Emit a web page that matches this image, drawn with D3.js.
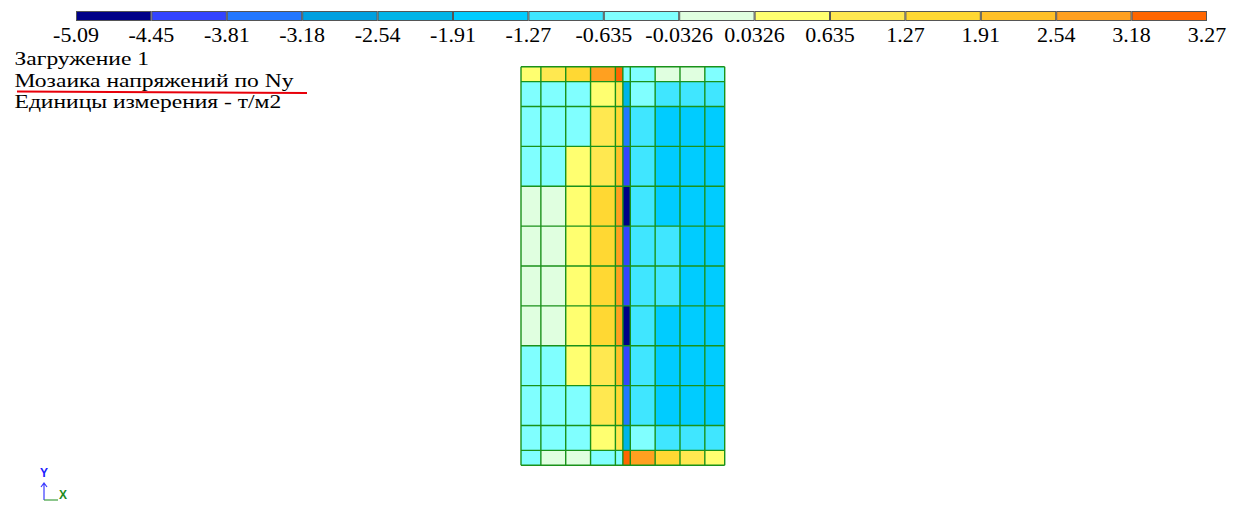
<!DOCTYPE html>
<html>
<head>
<meta charset="utf-8">
<script src="https://cdn.jsdelivr.net/npm/d3@7"></script>
<style>
  html, body { margin: 0; padding: 0; background: #fff; }
  svg { display: block; }
  text { font-family: "Liberation Serif", "Times New Roman", serif; }
  text.axis-letter { font-family: "Liberation Sans", Arial, sans-serif; font-weight: bold; }
</style>
</head>
<body>
<svg id="chart" width="1241" height="508"></svg>
<script>
// Legend scale: band edges (t/m2) and their printed labels
const bandEdges = [-5.09, -4.45, -3.81, -3.18, -2.54, -1.91, -1.27, -0.635, -0.0326, 0.0326, 0.635, 1.27, 1.91, 2.54, 3.18, 3.27];
const edgeLabels = ["-5.09", "-4.45", "-3.81", "-3.18", "-2.54", "-1.91", "-1.27", "-0.635", "-0.0326", "0.0326", "0.635", "1.27", "1.91", "2.54", "3.18", "3.27"];
const bandColors = ["#000088", "#3344ff", "#2277ff", "#00a0e0", "#00b4e8", "#00ccff", "#40e6ff", "#80ffff",
                    "#e0ffe0", "#ffff70", "#ffe850", "#ffd833", "#ffc028", "#ffa020", "#ff6600"];

// Plate mesh: node coordinates along X and along Y (m), Y measured from the top edge
const meshX = [0, 0.4, 0.9, 1.4, 1.9, 2.05, 2.2, 2.7, 3.2, 3.7, 4.1];
const meshY = [0, 0.3, 0.8, 1.6, 2.4, 3.2, 4.0, 4.8, 5.6, 6.4, 7.2, 7.7, 8.0];

// Ny per element (t/m2), rows from top to bottom, columns from left to right
const nyValues = [
  [ 0.30,  0.95,  1.60,  2.90,  3.27, -0.30, -0.30,  0.00,  0.00, -0.30],
  [-0.30, -0.30, -0.30,  0.30,  0.95, -2.20, -0.30, -0.95, -0.95, -0.95],
  [-0.30, -0.30, -0.30,  0.95,  1.60, -3.50, -0.95, -1.60, -1.60, -1.60],
  [-0.30, -0.30,  0.30,  0.95,  2.20, -4.10, -0.95, -1.60, -1.60, -1.60],
  [ 0.00,  0.00,  0.30,  1.60,  2.90, -5.09, -0.95, -1.60, -1.60, -1.60],
  [ 0.00,  0.00,  0.30,  1.60,  2.90, -4.10, -0.95, -0.95, -1.60, -1.60],
  [ 0.00,  0.00,  0.30,  1.60,  2.90, -4.10, -0.95, -0.95, -1.60, -1.60],
  [ 0.00,  0.00,  0.30,  1.60,  2.90, -5.09, -0.95, -1.60, -1.60, -1.60],
  [-0.30, -0.30,  0.30,  0.95,  2.20, -4.10, -0.95, -1.60, -1.60, -1.60],
  [-0.30, -0.30, -0.30,  0.95,  1.60, -3.50, -0.95, -1.60, -1.60, -1.60],
  [-0.30, -0.30, -0.30,  0.30,  0.95, -2.20, -0.30, -0.95, -0.95, -0.95],
  [-0.30,  0.00,  0.00, -0.30, -0.30,  3.27,  2.90,  1.60,  0.95,  0.30]
];

const titleLines = ["Загружение 1", "Мозаика напряжений по Ny", "Единицы измерения - т/м2"];

const svg = d3.select("#chart");

// Colour lookup: each element takes the colour of the band its value falls into
const color = d3.scaleThreshold()
  .domain(bandEdges.slice(1, -1))
  .range(bandColors);

// ---- Legend bar ----
const legendX = d3.scaleLinear().domain([0, bandColors.length]).range([76, 1207]);
const legend = svg.append("g").attr("class", "legend");
legend.selectAll("rect")
  .data(bandColors)
  .join("rect")
  .attr("x", (d, i) => legendX(i) + 0.5)
  .attr("y", 11.5)
  .attr("width", (d, i) => legendX(i + 1) - legendX(i) - 1)
  .attr("height", 9)
  .attr("fill", d => d)
  .attr("stroke", "#555")
  .attr("stroke-width", 1);
legend.selectAll("text")
  .data(edgeLabels)
  .join("text")
  .attr("transform", (d, i) => `translate(${legendX(i)},41.5) scale(1.1,1)`)
  .attr("text-anchor", "middle")
  .attr("font-size", 20)
  .attr("fill", "#000")
  .text(d => d);

// ---- Title block (wide, compact caption lines) ----
const title = svg.append("g").attr("class", "title");
title.selectAll("text")
  .data(titleLines)
  .join("text")
  .attr("transform", (d, i) => `translate(14.5,${65 + i * 21.6}) scale(1.24,1)`)
  .attr("font-size", 19)
  .attr("fill", "#000")
  .text(d => d);
title.append("line")
  .attr("x1", 17).attr("y1", 91.5)
  .attr("x2", 307).attr("y2", 93)
  .attr("stroke", "#e8000a")
  .attr("stroke-width", 2);

// ---- Mosaic ----
const x = d3.scaleLinear().domain([0, d3.max(meshX)]).range([521, 724.7]);
const y = d3.scaleLinear().domain([0, d3.max(meshY)]).range([66.7, 465.3]);

const cells = nyValues.flatMap((row, r) => row.map((v, c) => ({ r, c, v })));
const mosaic = svg.append("g").attr("class", "mosaic");
mosaic.selectAll("rect")
  .data(cells)
  .join("rect")
  .attr("x", d => x(meshX[d.c]))
  .attr("y", d => y(meshY[d.r]))
  .attr("width", d => x(meshX[d.c + 1]) - x(meshX[d.c]))
  .attr("height", d => y(meshY[d.r + 1]) - y(meshY[d.r]))
  .attr("fill", d => color(d.v))
  .attr("shape-rendering", "crispEdges");

// Element edges
const gridColor = "#1a921a";
mosaic.selectAll("line.v")
  .data(meshX)
  .join("line")
  .attr("class", "v")
  .attr("x1", d => x(d)).attr("x2", d => x(d))
  .attr("y1", y(0)).attr("y2", y(d3.max(meshY)))
  .attr("stroke", gridColor)
  .attr("stroke-width", 1.4);
mosaic.selectAll("line.h")
  .data(meshY)
  .join("line")
  .attr("class", "h")
  .attr("y1", d => y(d)).attr("y2", d => y(d))
  .attr("x1", x(0)).attr("x2", x(d3.max(meshX)))
  .attr("stroke", gridColor)
  .attr("stroke-width", 1.4);

// ---- Axis triad ----
const triad = svg.append("g").attr("class", "triad");
triad.append("path")
  .attr("d", "M44,500 L44,483 M41,487 L44,483 L47,487")
  .attr("fill", "none")
  .attr("stroke", "#3a3aff").attr("stroke-width", 1.2);
triad.append("line")
  .attr("x1", 44).attr("y1", 500).attr("x2", 58).attr("y2", 500)
  .attr("stroke", "#40a040").attr("stroke-width", 1.2);
triad.append("text")
  .attr("class", "axis-letter")
  .attr("x", 44).attr("y", 477)
  .attr("text-anchor", "middle")
  .attr("font-size", 12)
  .attr("fill", "#2020ff")
  .text("Y");
triad.append("text")
  .attr("class", "axis-letter")
  .attr("x", 63).attr("y", 499)
  .attr("text-anchor", "middle")
  .attr("font-size", 12)
  .attr("fill", "#208a20")
  .text("X");
</script>
</body>
</html>
